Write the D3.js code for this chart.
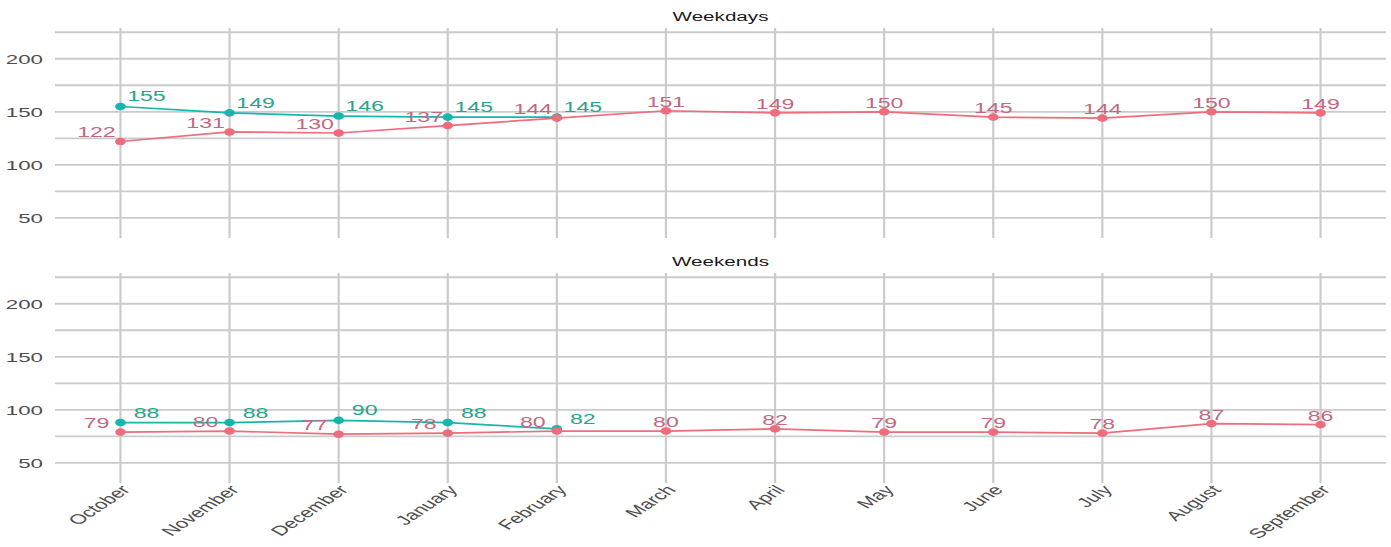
<!DOCTYPE html>
<html>
<head>
<meta charset="utf-8">
<script src="https://cdn.jsdelivr.net/npm/d3@7"></script>
<style>
  html, body { margin: 0; padding: 0; background: #fff; }
  svg { display: block; font-family: "Liberation Sans", Arial, sans-serif; }
</style>
</head>
<body>
<svg id="chart" width="1391" height="547"></svg>
<script>
const months = ["October","November","December","January","February","March","April","May","June","July","August","September"];
const panels = ["Weekdays","Weekends"];
// pink series (all months)
const weekdaysA = [122,131,130,137,144,151,149,150,145,144,150,149];
const weekendsA = [79,80,77,78,80,80,82,79,79,78,87,86];
// teal series (October - February)
const weekdaysB = [155,149,146,145,145];
const weekendsB = [88,88,90,88,82];
const yTicks = [50,100,150,200];
const yMinor = [75,125,175,225];

const seriesA = [weekdaysA, weekendsA];
const seriesB = [weekdaysB, weekendsB];

const colA = "#ee6c7b", colB = "#15b6ac";
const txtA = "#c2687f", txtB = "#27a48b";
const SX = 1.65; // horizontal stretch of the reference image

const svg = d3.select("#chart");
const left = 55, right = 1386;
const x = d3.scalePoint().domain(months).range([left, right]).padding(0.6);

const panelTop = [28, 273];
const panelH = 210;

panels.forEach((name, pi) => {
  const top = panelTop[pi];
  const y = d3.scaleLinear().domain([31, 229]).range([top + panelH, top]);
  const g = svg.append("g");

  // title
  svg.append("text")
    .attr("transform", `translate(${(left + right) / 2},${top - 7.5}) scale(${SX},1)`)
    .attr("text-anchor", "middle").attr("font-size", 12.5).attr("fill", "#1a1a1a").text(name);

  // horizontal grid
  g.selectAll(".hg").data(yTicks.concat(yMinor)).enter().append("line")
    .attr("x1", left).attr("x2", right)
    .attr("y1", d => y(d)).attr("y2", d => y(d))
    .attr("stroke", "#cbcbcb").attr("stroke-width", 1.8);
  // vertical grid
  g.selectAll(".vg").data(months).enter().append("line")
    .attr("x1", d => x(d)).attr("x2", d => x(d))
    .attr("y1", top).attr("y2", top + panelH)
    .attr("stroke", "#cbcbcb").attr("stroke-width", 2.2);

  // y axis labels
  const yAxis = d3.axisLeft(y).tickValues(yTicks).tickSize(0).tickPadding(0);
  const ya = svg.append("g").attr("transform", `translate(${left - 12},0)`).call(yAxis);
  ya.select(".domain").remove();
  ya.selectAll("text").attr("font-size", 13.5).attr("fill", "#4d4d4d")
    .attr("font-family", "Liberation Sans, Arial, sans-serif")
    .attr("transform", `scale(${SX},1)`);

  const A = seriesA[pi].map((v, i) => ({m: months[i], v}));
  const B = seriesB[pi].map((v, i) => ({m: months[i], v}));
  const line = d3.line().x(d => x(d.m)).y(d => y(d.v));

  g.append("path").datum(B).attr("d", line).attr("fill", "none")
    .attr("stroke", colB).attr("stroke-width", 1.7);
  g.append("path").datum(A).attr("d", line).attr("fill", "none")
    .attr("stroke", colA).attr("stroke-width", 1.7);

  g.selectAll(".pb").data(B).enter().append("ellipse")
    .attr("cx", d => x(d.m)).attr("cy", d => y(d.v)).attr("rx", 5.3).attr("ry", 3.8).attr("fill", colB);
  g.selectAll(".pa").data(A).enter().append("ellipse")
    .attr("cx", d => x(d.m)).attr("cy", d => y(d.v)).attr("rx", 5.3).attr("ry", 3.8).attr("fill", colA);

  const hasB = i => i < B.length;
  g.selectAll(".la").data(A).enter().append("text")
    .attr("transform", (d, i) => `translate(${x(d.m) + (hasB(i) ? -24 : 0)},${y(d.v) - 4}) scale(${SX},1)`)
    .attr("text-anchor", "middle").attr("font-size", 14).attr("fill", txtA).text(d => d.v);
  g.selectAll(".lb").data(B).enter().append("text")
    .attr("transform", d => `translate(${x(d.m) + 26},${y(d.v) - 5}) scale(${SX},1)`)
    .attr("text-anchor", "middle").attr("font-size", 14).attr("fill", txtB).text(d => d.v);

  // x axis labels only on bottom panel
  if (pi === panels.length - 1) {
    svg.append("g").selectAll("text").data(months).enter().append("text")
      .attr("transform", d => `translate(${x(d) - 1},${top + panelH + 1}) scale(${SX},1) rotate(-48)`)
      .attr("text-anchor", "end").attr("dy", "0.71em")
      .attr("font-size", 13.5).attr("fill", "#4d4d4d").text(d => d);
  }
});
</script>
</body>
</html>
